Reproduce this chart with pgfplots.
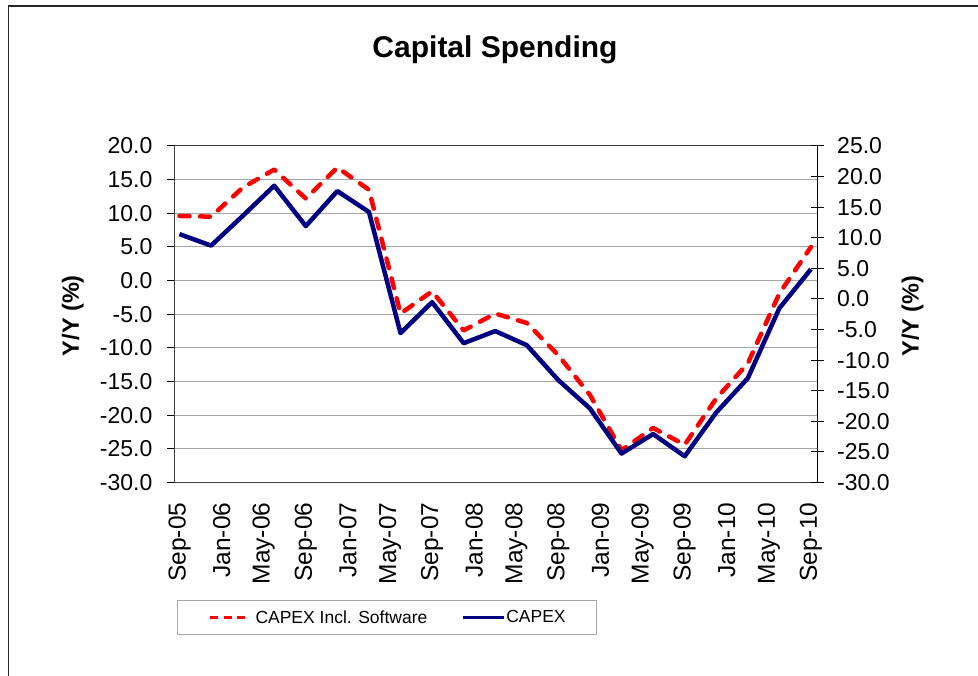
\documentclass[border=0pt]{standalone}
\usepackage{pgfplots}
\usepackage{pgfplotstable}
\pgfplotsset{compat=1.18}
\usepackage{fontspec}
\setmainfont{Liberation Sans}
\definecolor{capexblue}{RGB}{0,0,128}
\definecolor{capexred}{RGB}{255,0,0}
\definecolor{gridgray}{RGB}{165,165,165}

\pgfplotstableread{
m sw capex
0 9.6 6.9
3 9.5 5.2
6 13.8 9.6
9 16.5 14.1
12 12.2 8.1
15 16.8 13.3
18 13.5 10.2
21 -4.9 -7.8
24 -1.6 -3.2
27 -7.4 -9.3
30 -4.9 -7.5
33 -6.3 -9.6
36 -11.1 -14.8
39 -17.0 -19.0
42 -25.2 -25.7
45 -21.9 -22.8
48 -24.4 -26.1
51 -17.5 -19.6
54 -12.3 -14.5
57 -1.9 -4.1
60 5.0 1.7
}\datatable

\begin{document}
\begin{tikzpicture}[x=1pt,y=1pt]
\path[use as bounding box] (0,0) rectangle (978,676);
\draw[line width=1.5pt, black!85] (8.3,-10) -- (8.3,670) -- (990,670);
\node[anchor=base, font=\bfseries\fontsize{30}{36}\selectfont] at (495,618.7) {Capital Spending};

\begin{axis}[
  at={(174.5pt,193.5pt)}, anchor=south west,
  scale only axis, width=643pt, height=336.5pt,
  xmin=-0.475, xmax=60.62,
  ymin=-30, ymax=20,
  ytick={-30,-25,...,20},
  xtick={0,4,...,60},
  xticklabels={Sep-05,Jan-06,May-06,Sep-06,Jan-07,May-07,Sep-07,Jan-08,May-08,Sep-08,Jan-09,May-09,Sep-09,Jan-10,May-10,Sep-10},
  xtick style={draw=none},
  ytick pos=left,
  tick align=outside,
  major tick length=7.5pt,
  ytick style={black, line width=1pt},
  ymajorgrids,
  grid style={gridgray, line width=1pt},
  axis line style={black!75, line width=1pt},
  ticklabel style={font=\fontsize{23}{27}\selectfont},
  /pgf/number format/.cd, fixed, fixed zerofill, precision=1, assume math mode=true,
  /pgfplots/.cd,
  xticklabel style={rotate=90, anchor=east, inner sep=0pt, font=\fontsize{24.5}{28}\selectfont},
  xticklabel shift=12.5pt,
  yticklabel style={anchor=east, inner sep=0pt},
  yticklabel shift=14.5pt,
  ylabel={Y/Y (\%)},
  ylabel style={at={(axis description cs:-0.1583,0.4957)}, anchor=center, font=\bfseries\fontsize{23.5}{28}\selectfont},
  legend columns=2,
  legend cell align=left,
  legend style={at={(axis description cs:0.0039,-0.3492)}, anchor=north west,
    draw=gray!70, line width=1pt, inner xsep=31pt, inner ysep=10pt,
    font=\fontsize{17.5}{21}\selectfont,
    nodes={inner sep=0pt},
    /tikz/column 1/.style={column sep=9pt},
    /tikz/column 2/.style={column sep=34pt},
    /tikz/column 3/.style={column sep=1pt}},
]
\addplot[capexred, line width=4.5pt, dash pattern=on 10pt off 10.5pt, line cap=round, line join=round, forget plot] table[x=m, y=sw] {\datatable};
\addplot[capexblue, line width=4.5pt, line join=round, forget plot] table[x=m, y=capex] {\datatable};
\addlegendimage{legend image code/.code={\draw[capexred, line width=3pt, dash pattern=on 8pt off 5.5pt] (0pt,0pt) -- (35pt,0pt);}}
\addlegendentry{CAPEX Incl. Software}
\addlegendimage{legend image code/.code={\draw[capexblue, line width=3pt] (0pt,0pt) -- (41pt,0pt);}}
\addlegendentry{CAPEX}
\end{axis}

\begin{axis}[
  at={(174.5pt,193.5pt)}, anchor=south west,
  scale only axis, width=643pt, height=336.5pt,
  xmin=-0.475, xmax=60.62,
  ymin=-30, ymax=25,
  ytick={-30,-25,...,25},
  axis x line=none,
  axis y line*=right,
  tick align=center,
  major tick length=13pt,
  ytick style={black, line width=1pt},
  axis line style={black, line width=1pt},
  ticklabel style={font=\fontsize{23}{27}\selectfont},
  /pgf/number format/.cd, fixed, fixed zerofill, precision=1, assume math mode=true,
  /pgfplots/.cd,
  yticklabel style={anchor=west, inner sep=0pt},
  yticklabel shift=13pt,
  ylabel={Y/Y (\%)},
  ylabel style={at={(axis description cs:1.1478,0.495)}, anchor=center, font=\bfseries\fontsize{23.5}{28}\selectfont},
]
\end{axis}
\end{tikzpicture}
\end{document}
